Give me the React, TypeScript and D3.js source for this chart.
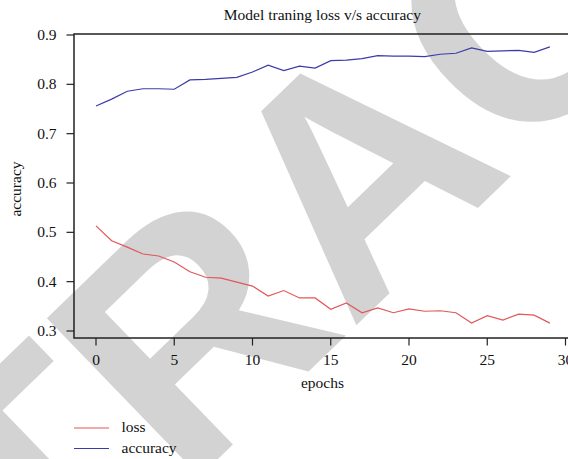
import { useRef, useEffect, RefObject } from 'react';
import * as d3 from 'd3';

const epochs: number[] = d3.range(30);
const loss: number[] = [
  0.513, 0.483, 0.47, 0.456, 0.452, 0.44, 0.42, 0.409, 0.407, 0.399,
  0.391, 0.371, 0.382, 0.367, 0.367, 0.344, 0.357, 0.337, 0.347, 0.337,
  0.345, 0.34, 0.341, 0.337, 0.316, 0.331, 0.322, 0.334, 0.332, 0.316,
];
const accuracy: number[] = [
  0.756, 0.77, 0.786, 0.791, 0.791, 0.79, 0.809, 0.81, 0.812, 0.814,
  0.825, 0.839, 0.828, 0.837, 0.833, 0.848, 0.849, 0.852, 0.858, 0.857,
  0.857, 0.856, 0.861, 0.863, 0.874, 0.867, 0.868, 0.869, 0.865, 0.876,
];
const xTicks: number[] = [0, 5, 10, 15, 20, 25, 30];
const yTicks: number[] = [0.3, 0.4, 0.5, 0.6, 0.7, 0.8, 0.9];
const seriesNames: string[] = ['loss', 'accuracy'];
const seriesColors: string[] = ['#e0585a', '#3c3ca8'];

const App = () => {
  const svgRef: RefObject<SVGSVGElement> = useRef(null);

  useEffect(() => {
    const width = 568;
    const height = 459;
    const font = "'Liberation Serif', 'DejaVu Serif', serif";
    const fs = 15.5;

    const svg = d3.select(svgRef.current)
      .attr('width', width)
      .attr('height', height)
      .style('position', 'absolute')
      .style('left', '0px')
      .style('top', '0px')
      .style('font-family', font);
    svg.selectAll('*').remove();

    // watermark behind everything
    svg.append('text')
      .attr('transform', 'translate(-276,936) rotate(-44)')
      .attr('font-family', "'Liberation Sans', Arial, sans-serif")
      .attr('font-weight', 'bold')
      .attr('font-size', 320)
      .attr('fill', '#d3d3d3')
      .text('RETRACTED');

    const x = d3.scaleLinear().domain([0, 30]).range([96, 565.5]);
    const y = d3.scaleLinear().domain([0.3, 0.9]).range([331, 35]);
    const left = 74, top = 34, bottom = 338, right = 590;

    // box
    svg.append('rect')
      .attr('x', left).attr('y', top)
      .attr('width', right - left).attr('height', bottom - top)
      .attr('fill', 'none').attr('stroke', '#222').attr('stroke-width', 1.5);

    // y axis
    const yAxis = svg.append('g');
    yAxis.selectAll('line').data(yTicks).join('line')
      .attr('x1', left - 7.5).attr('x2', left)
      .attr('y1', d => y(d)).attr('y2', d => y(d))
      .attr('stroke', '#222').attr('stroke-width', 1.2);
    yAxis.selectAll('text').data(yTicks).join('text')
      .attr('x', 56.5).attr('y', d => y(d))
      .attr('dy', '0.33em')
      .attr('text-anchor', 'end')
      .attr('font-size', fs)
      .attr('fill', '#111')
      .text(d => d3.format('.1f')(d));

    // x axis
    const xAxis = svg.append('g');
    xAxis.selectAll('line').data(xTicks).join('line')
      .attr('x1', d => x(d)).attr('x2', d => x(d))
      .attr('y1', bottom).attr('y2', bottom + 7.5)
      .attr('stroke', '#222').attr('stroke-width', 1.2);
    xAxis.selectAll('text').data(xTicks).join('text')
      .attr('x', d => x(d)).attr('y', 365)
      .attr('text-anchor', 'middle')
      .attr('font-size', fs)
      .attr('fill', '#111')
      .text(d => String(d));

    // lines
    const line = d3.line<number>().x((_, i) => x(epochs[i])).y(d => y(d));
    [loss, accuracy].forEach((s, k) => {
      svg.append('path')
        .datum(s)
        .attr('d', line)
        .attr('fill', 'none')
        .attr('stroke', seriesColors[k])
        .attr('stroke-width', 1.2);
    });

    // titles
    svg.append('text')
      .attr('x', 322.4).attr('y', 19.5)
      .attr('text-anchor', 'middle')
      .attr('font-size', fs)
      .attr('fill', '#111')
      .text('Model traning loss v/s accuracy');
    svg.append('text')
      .attr('x', 322.4).attr('y', 388)
      .attr('text-anchor', 'middle')
      .attr('font-size', fs)
      .attr('fill', '#111')
      .text('epochs');
    svg.append('text')
      .attr('transform', 'translate(20.5,189) rotate(-90)')
      .attr('text-anchor', 'middle')
      .attr('font-size', fs)
      .attr('fill', '#111')
      .text('accuracy');

    // legend
    const legend = svg.append('g');
    seriesNames.forEach((name, k) => {
      const ly = 428 + k * 20.5;
      legend.append('line')
        .attr('x1', 74).attr('x2', 109)
        .attr('y1', ly).attr('y2', ly)
        .attr('stroke', seriesColors[k]).attr('stroke-width', 1.2);
      legend.append('text')
        .attr('x', 121.5).attr('y', ly + 4)
        .attr('font-size', fs)
        .attr('fill', '#111')
        .text(name);
    });
  }, []);

  return <svg ref={svgRef}></svg>;
};

export default App;
